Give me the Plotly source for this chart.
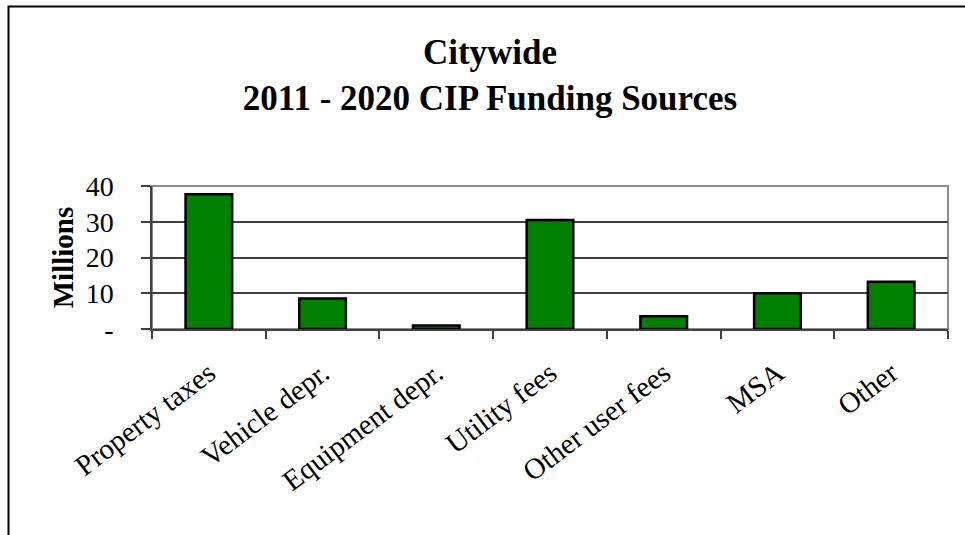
import plotly.graph_objects as go

# Funding sources, 2011-2020 CIP (millions)
categories = ["Property taxes", "Vehicle depr.", "Equipment depr.", "Utility fees",
              "Other user fees", "MSA", "Other"]
values = [37.7, 8.5, 1.0, 30.5, 3.6, 10.0, 13.2]

y_ticks = [0, 10, 20, 30, 40]
y_tick_labels = ["-", "10", "20", "30", "40"]

W, H = 965, 535
L, R, T, B = 152, 17, 186, 206
pw, ph = W - L - R, H - T - B

serif = "Liberation Serif, Times New Roman, serif"

fig = go.Figure()
fig.add_trace(go.Bar(
    x=categories,
    y=values,
    marker=dict(color="#008000", line=dict(color="black", width=2.5)),
    hoverinfo="x+y",
))


def px_x(p):
    return (p - L) / pw


def px_y(p):
    return (H - B - p) / ph


fig.update_layout(
    width=W, height=H,
    margin=dict(l=L, r=R, t=T, b=B),
    paper_bgcolor="white",
    plot_bgcolor="white",
    bargap=0.59,
    showlegend=False,
    font=dict(family=serif, color="black"),
    title=dict(
        text="<b>Citywide<br>2011 - 2020 CIP Funding Sources</b>",
        x=490 / W, xanchor="center",
        y=1 - 64 / H, yanchor="middle",
        font=dict(family=serif, size=35, color="black"),
    ),
    shapes=[
        # outer chart border (only left and top edges visible)
        dict(type="rect", xref="paper", yref="paper",
             x0=px_x(8.5), x1=px_x(1000), y0=px_y(6.5), y1=px_y(600),
             line=dict(color="black", width=2), layer="below"),
        # plot area frame (top/right, gray)
        dict(type="rect", xref="paper", yref="paper",
             x0=0, x1=1, y0=0, y1=1,
             line=dict(color="#8c8c8c", width=2), layer="below"),
    ],
)

fig.update_xaxes(
    showgrid=False,
    showline=True, linecolor="#404040", linewidth=1.5,
    ticks="outside", ticklen=8, tickcolor="#404040", tickwidth=1.5,
    tickson="boundaries",
    tickangle=-37,
    ticklabelstandoff=14,
    tickfont=dict(family=serif, size=29, color="black"),
    fixedrange=True,
)
fig.update_yaxes(
    range=[0, 40],
    tickvals=y_ticks, ticktext=y_tick_labels,
    showgrid=True, gridcolor="#404040", gridwidth=1.5,
    showline=True, linecolor="#404040", linewidth=1.5,
    ticks="outside", ticklen=9, tickcolor="#404040", tickwidth=1.5,
    ticklabelstandoff=22,
    tickfont=dict(family=serif, size=28, color="black"),
    title=dict(text="<b>Millions</b>", font=dict(family=serif, size=29, color="black"), standoff=4),
    zeroline=False,
    fixedrange=True,
)

fig.write_html("out.html", config={"displayModeBar": False},
               post_script="document.body.style.margin='0';")
